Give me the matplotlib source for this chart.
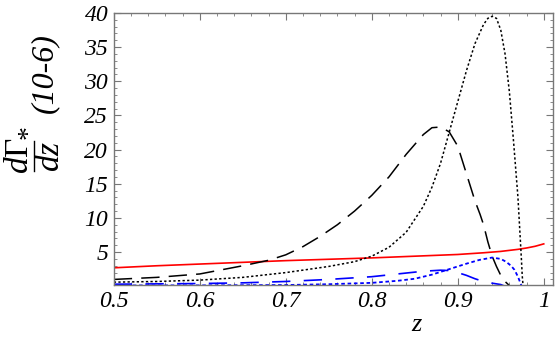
import matplotlib
matplotlib.use('Agg')
import matplotlib.pyplot as plt
from matplotlib.lines import Line2D
from matplotlib.ticker import MultipleLocator

plt.rcParams['font.family'] = 'Liberation Serif'
plt.rcParams['mathtext.fontset'] = 'custom'
plt.rcParams['mathtext.rm'] = 'Liberation Serif'
plt.rcParams['mathtext.it'] = 'Liberation Serif:italic'

# values
z_red = [0.50, 0.55, 0.60, 0.65, 0.70, 0.75, 0.80, 0.85, 0.90, 0.93, 0.95, 0.97, 0.98, 0.99, 1.00]
red = [2.7, 3.0, 3.25, 3.5, 3.75, 3.95, 4.15, 4.4, 4.65, 4.9, 5.1, 5.4, 5.6, 5.85, 6.2]

z_kdash = [0.50, 0.55, 0.60, 0.65, 0.68, 0.70, 0.72, 0.74, 0.76, 0.78, 0.80, 0.82, 0.84, 0.86,
           0.87, 0.88, 0.89, 0.90, 0.91, 0.92, 0.926, 0.93, 0.935, 0.94, 0.945, 0.95, 0.955, 0.96]
kdash = [1.0, 1.3, 1.8, 3.0, 3.8, 4.6, 5.8, 7.3, 9.0, 11.0, 13.3, 16.0, 19.3, 22.2,
         23.2, 23.3, 22.6, 20.5, 16.5, 12.5, 10.5, 9.0, 6.5, 4.4, 2.9, 1.6, 0.7, 0.1]

z_kdot = [0.50, 0.55, 0.60, 0.65, 0.70, 0.75, 0.78, 0.80, 0.82, 0.84, 0.86, 0.87, 0.88, 0.89,
          0.90, 0.91, 0.92, 0.93, 0.935, 0.94, 0.945, 0.95, 0.955, 0.96, 0.965, 0.97, 0.972,
          0.974, 0.975, 0.976]
kdot = [0.6, 0.7, 0.9, 1.3, 2.0, 2.9, 3.6, 4.4, 5.7, 7.9, 11.7, 14.5, 18.0, 22.5,
        27.0, 31.5, 35.5, 38.3, 39.2, 39.5, 39.2, 37.5, 34.0, 28.5, 21.0, 13.0, 8.5,
        4.0, 1.5, 0.0]

z_bdash = [0.50, 0.55, 0.60, 0.65, 0.70, 0.75, 0.80, 0.83, 0.86, 0.88, 0.89, 0.90, 0.91, 0.92,
           0.93, 0.94, 0.95, 0.955]
bdash = [0.3, 0.35, 0.4, 0.5, 0.7, 1.0, 1.4, 1.8, 2.2, 2.35, 2.3, 2.0, 1.6, 1.1,
         0.7, 0.45, 0.25, 0.0]

z_bdot = [0.50, 0.60, 0.70, 0.75, 0.80, 0.83, 0.85, 0.87, 0.89, 0.91, 0.925, 0.94, 0.95, 0.956,
          0.962, 0.966, 0.97, 0.974]
bdot = [0.12, 0.13, 0.18, 0.3, 0.5, 0.8, 1.1, 1.7, 2.5, 3.3, 3.85, 4.2, 4.0, 3.6,
        3.0, 2.4, 1.4, 0.1]

xtick_vals = [0.5, 0.6, 0.7, 0.8, 0.9, 1.0]
xtick_labels = ['0.5', '0.6', '0.7', '0.8', '0.9', '1']
ytick_vals = [5, 10, 15, 20, 25, 30, 35, 40]
ytick_labels = ['5', '10', '15', '20', '25', '30', '35', '40']

fig = plt.figure(figsize=(5.55, 3.39), dpi=100)
ax = fig.add_axes([0.205, 0.159, 0.791, 0.803])

ax.plot(z_red, red, color='red', lw=1.2)
ax.plot(z_kdash, kdash, color='black', lw=1.1, dashes=(12, 6))
ax.plot(z_kdot, kdot, color='black', lw=1.1, dashes=(1.5, 1.5))
ax.plot(z_bdash, bdash, color='blue', lw=1.2, dashes=(11, 8))
ax.plot(z_bdot, bdot, color='blue', lw=1.3, dashes=(2, 1.5))

ax.set_xlim(0.5, 1.0105)
ax.set_ylim(0.17, 40)
ax.set_xticks(xtick_vals, labels=xtick_labels, style='italic', fontsize=17)
ax.set_yticks(ytick_vals, labels=ytick_labels, style='italic', fontsize=17)
ax.xaxis.set_minor_locator(MultipleLocator(0.02))
ax.yaxis.set_minor_locator(MultipleLocator(1))

for s in ax.spines.values():
    s.set_color('#777777')
    s.set_linewidth(1.0)
ax.tick_params(which='both', direction='in', top=True, right=True, color='#777777')
ax.tick_params(which='major', length=5, width=0.8, pad=4)
ax.tick_params(which='minor', length=2.5, width=0.6)

# axis labels placed where the reference has them
fig.text(416 / 555, 1 - 325 / 339, 'z', fontsize=19, style='italic', ha='center', va='center')

# rotated fraction dGamma/dz built by hand so it keeps full size
fig.text(20 / 555, 1 - 156 / 339, r'$d\Gamma$', fontsize=24, rotation=90,
         ha='center', va='center')
fig.add_artist(Line2D([34 / 555, 34 / 555], [1 - 141 / 339, 1 - 171 / 339],
                      color='black', lw=1.0, transform=fig.transFigure))
fig.text(51 / 555, 1 - 156 / 339, r'$dz$', fontsize=24, rotation=90,
         ha='center', va='center')
fig.text(29 / 555, 1 - 132 / 339, '*', fontsize=20, rotation=90, ha='center', va='center')
fig.text(45 / 555, 1 - 73 / 339, '(10-6)', fontsize=23, style='italic', rotation=90,
         ha='center', va='center')

fig.savefig('out.png', dpi=100)
